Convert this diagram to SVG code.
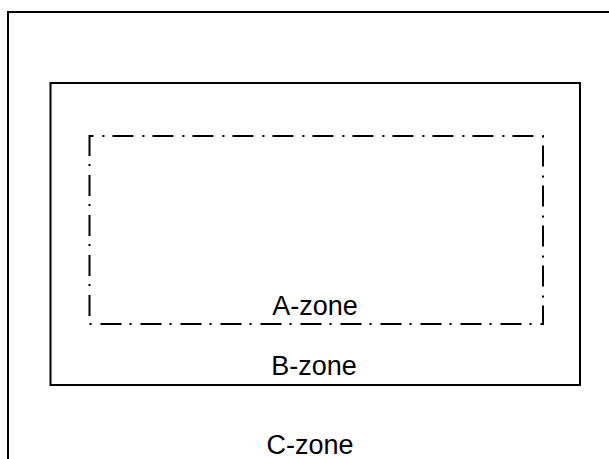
<svg xmlns="http://www.w3.org/2000/svg" width="609" height="459" viewBox="0 0 609 459">
  <style>
    .zone { fill: none; stroke: #000; stroke-width: 2; }
    .dashdot { stroke-dasharray: 21 9 2 8; stroke-dashoffset: 17; }
    .label { font-family: "Liberation Sans", Arial, sans-serif; font-size: 27px; fill: #000; text-anchor: middle; }
  </style>
  <rect width="609" height="459" fill="#fff"/>
  <!-- outer boundary, open past the right and bottom edges -->
  <g id="zone-c">
    <path class="zone" d="M8,470 V12 H620"/>
    <text class="label" x="310" y="454">C-zone</text>
  </g>
  <g id="zone-b">
    <rect class="zone" x="50.5" y="83" width="529.5" height="302"/>
    <text class="label" x="314" y="375">B-zone</text>
  </g>
  <g id="zone-a">
    <path class="zone dashdot" d="M89.5,136 H543 V324 H89.5 Z"/>
    <text class="label" x="315" y="315">A-zone</text>
  </g>
  <g id="connectors"/>
</svg>
